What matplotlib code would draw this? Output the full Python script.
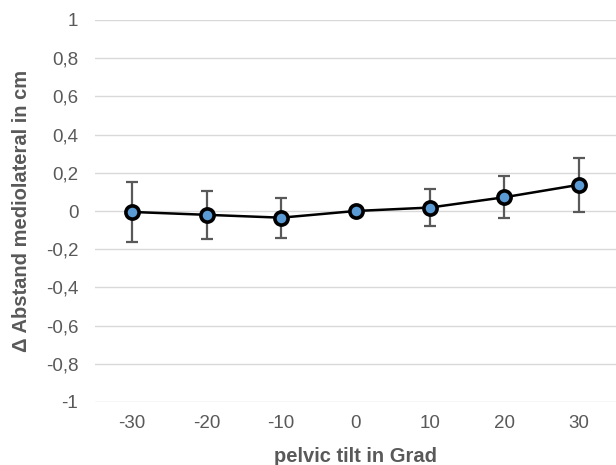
import matplotlib.pyplot as plt

# pelvic tilt vs mediolateral distance change
tilt = [-30, -20, -10, 0, 10, 20, 30]
delta = [-0.005, -0.02, -0.035, 0.0, 0.018, 0.072, 0.137]
sd = [0.155, 0.125, 0.105, 0.0, 0.098, 0.109, 0.14]
yticks = [-1, -0.8, -0.6, -0.4, -0.2, 0, 0.2, 0.4, 0.6, 0.8, 1]

plt.rcParams['font.family'] = ['Liberation Sans', 'DejaVu Sans']

fig = plt.figure(figsize=(6.16, 4.65), dpi=100)
ax = fig.add_axes([95 / 616, 1 - 402 / 465, 1 - 95 / 616, (402 - 20) / 465])

pos = list(range(len(tilt)))
ax.errorbar(pos, delta, yerr=sd, fmt='none', ecolor='#595959',
            elinewidth=1.6, capsize=4, capthick=1.6, zorder=2)
ax.plot(pos, delta, color='black', linewidth=1.8, marker='o',
        markersize=9.5, markerfacecolor='#5B9BD5', markeredgecolor='black',
        markeredgewidth=2.6, zorder=3)

ax.set_xlim(-0.5, len(tilt) - 0.5)
ax.set_xticks(pos)
ax.set_xticklabels([str(t) for t in tilt])
ax.set_ylim(-1, 1)
ax.set_yticks(yticks)
ax.set_yticklabels([('%g' % v).replace('.', ',') for v in yticks])

ax.grid(axis='y', color='#d9d9d9', linewidth=1)
ax.set_axisbelow(True)
for s in ax.spines.values():
    s.set_visible(False)
ax.tick_params(length=0, colors='#595959', labelsize=13.5)
ax.tick_params(axis='y', pad=12)
ax.tick_params(axis='x', pad=9)

ax.set_xlabel('pelvic tilt in Grad', fontsize=14.5, fontweight='bold',
              color='#595959', labelpad=11)
ax.set_ylabel('Δ Abstand mediolateral in cm', fontsize=14.5,
              fontweight='bold', color='#595959', labelpad=11)

fig.savefig('out.png', dpi=100)
